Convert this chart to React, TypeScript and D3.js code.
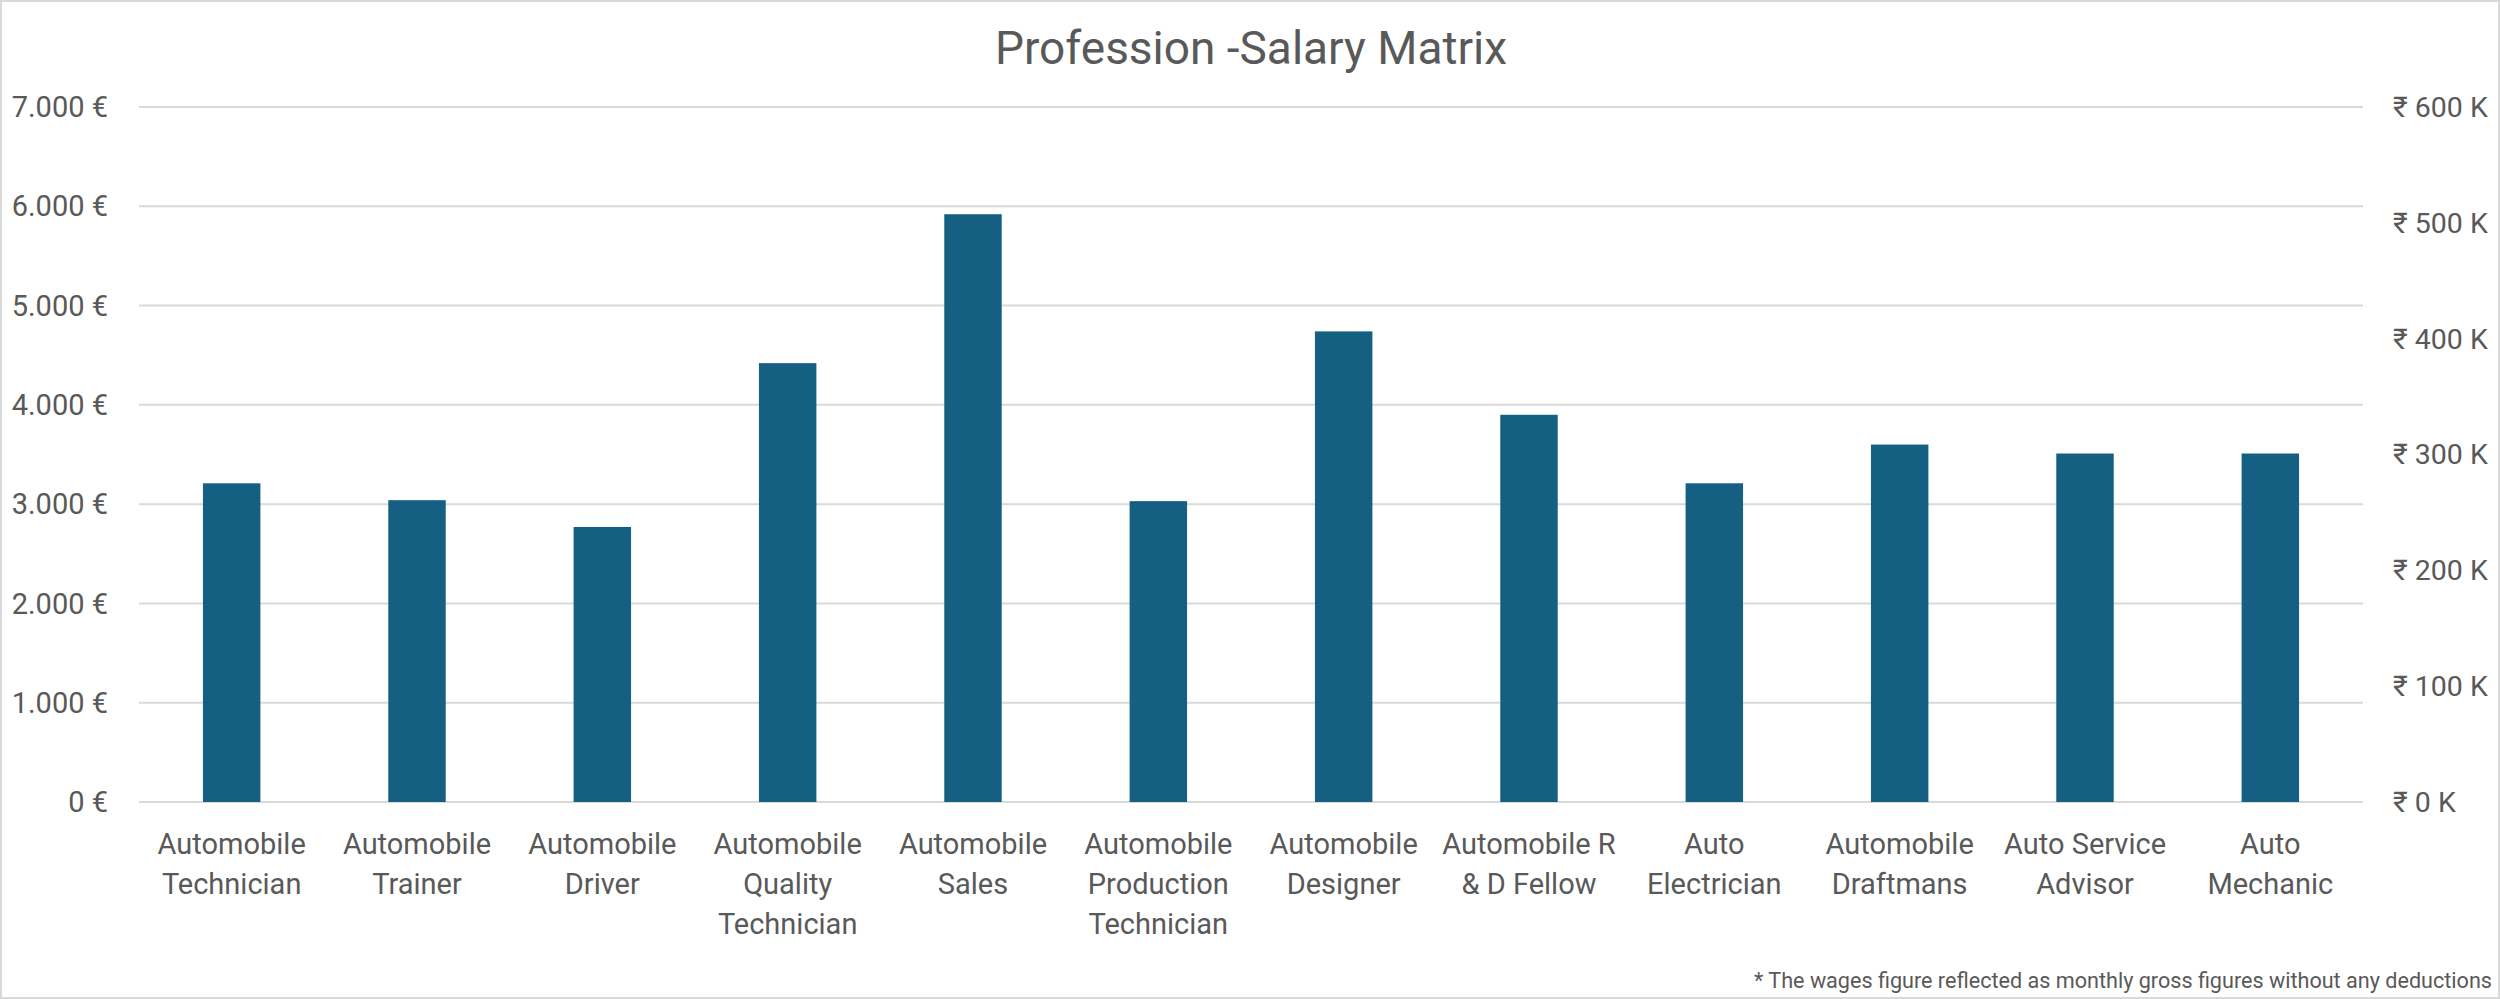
import React from "react";
import * as d3 from "d3";

// chart data
const categoryLabels: string[][] = [
  ["Automobile", "Technician"],
  ["Automobile", "Trainer"],
  ["Automobile", "Driver"],
  ["Automobile", "Quality", "Technician"],
  ["Automobile", "Sales"],
  ["Automobile", "Production", "Technician"],
  ["Automobile", "Designer"],
  ["Automobile R", "& D Fellow"],
  ["Auto", "Electrician"],
  ["Automobile", "Draftmans"],
  ["Auto Service", "Advisor"],
  ["Auto", "Mechanic"],
];
const categories = categoryLabels.map((l) => l.join(" "));
const salaryEur = [3210, 3040, 2770, 4420, 5920, 3030, 4740, 3900, 3210, 3600, 3510, 3510];
const eurTicks = [0, 1000, 2000, 3000, 4000, 5000, 6000, 7000];
const inrTicks = [0, 100000, 200000, 300000, 400000, 500000, 600000];

const title = "Profession -Salary Matrix";
const footnote = "* The wages figure reflected as monthly gross figures without any deductions";

const W = 2500;
const H = 999;
const FONT = "Roboto, 'DejaVu Sans', sans-serif";
const TEXT = "#595959";
const GRID = "#d9d9d9";
const BAR = "#156082";

const fmtEur = (v: number) => `${d3.format(",")(v).replace(/,/g, ".")} €`;
const fmtInr = (v: number) => `₹ ${v / 1000} K`;

const App: React.FC = () => {
  const x = d3
    .scaleBand<string>()
    .domain(categories)
    .range([139, 2363])
    .paddingInner(0.69)
    .paddingOuter(0.345);

  const y = d3.scaleLinear().domain([0, 7000]).range([802, 107]);
  const yRight = d3.scaleLinear().domain([0, 600000]).range([802, 107]);

  return (
    <svg
      width={W}
      height={H}
      style={{ position: "absolute", left: 0, top: 0, background: "#fff" }}
      fontFamily={FONT}
    >
      <rect x={1} y={1} width={W - 2} height={H - 2} fill="#fff" stroke={GRID} strokeWidth={2} />

      <text x={1251} y={64} textAnchor="middle" fontSize={46} fill={TEXT}>
        {title}
      </text>

      {/* gridlines + left axis */}
      {eurTicks.map((t) => (
        <g key={`e${t}`}>
          <line x1={139} x2={2363} y1={y(t)} y2={y(t)} stroke={GRID} strokeWidth={2} />
          <text x={108} y={y(t)} dy="0.35em" textAnchor="end" fontSize={29} fill={TEXT}>
            {fmtEur(t)}
          </text>
        </g>
      ))}

      {/* right axis */}
      {inrTicks.map((t) => (
        <text key={`i${t}`} x={2393} y={yRight(t)} dy="0.35em" textAnchor="start" fontSize={28.5} fill={TEXT}>
          {fmtInr(t)}
        </text>
      ))}

      {/* bars */}
      {categories.map((c, i) => (
        <rect
          key={c}
          x={x(c)!}
          y={y(salaryEur[i])}
          width={x.bandwidth()}
          height={y(0) - y(salaryEur[i])}
          fill={BAR}
        />
      ))}

      {/* category labels */}
      {categories.map((c, i) => (
        <text
          key={`l${c}`}
          x={x(c)! + x.bandwidth() / 2}
          y={854}
          textAnchor="middle"
          fontSize={29}
          fill={TEXT}
        >
          {categoryLabels[i].map((line, j) => (
            <tspan key={j} x={x(c)! + x.bandwidth() / 2} dy={j === 0 ? 0 : 40}>
              {line}
            </tspan>
          ))}
        </text>
      ))}

      <text x={2492} y={988} textAnchor="end" fontSize={21.6} fill={TEXT}>
        {footnote}
      </text>
    </svg>
  );
};

export default App;
